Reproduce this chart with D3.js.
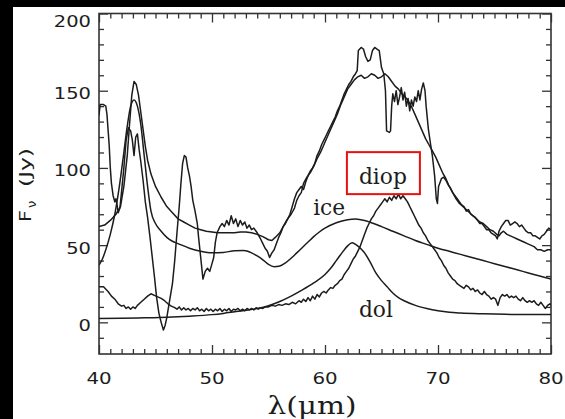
<!DOCTYPE html>
<html><head><meta charset="utf-8">
<script src="https://cdn.jsdelivr.net/npm/d3@7"></script>
<style>html,body{margin:0;padding:0;background:#fff;}svg{display:block}</style>
</head><body><svg id="c" width="565" height="419"></svg>
<script>
// ---------- DATA ----------
const xMajorTicks = [40, 50, 60, 70, 80];
const xTickLabels = ["40", "50", "60", "70", "80"];
const yMajorTicks = [0, 50, 100, 150, 200];
const yTickLabels = ["0", "50", "100", "150", "200"];
const xMinorTicks = [41,42,43,44,45,46,47,48,49,51,52,53,54,55,56,57,58,59,61,62,63,64,65,66,67,68,69,71,72,73,74,75,76,77,78,79];
const yMinorTicks = [-10,10,20,30,40,60,70,80,90,110,120,130,140,160,170,180,190];

// observed spectrum [lambda, F]
const observed = [
[40.0,134],[40.1,141],[40.4,141],[40.6,140],[40.7,135],[40.9,115],[41.0,100],[41.1,90],[41.25,82],[41.4,78],[41.5,80],[41.6,76],[41.7,71],[41.85,74],[42.0,85],[42.2,100],[42.4,118],[42.6,126],[42.8,124],[42.95,118],[43.1,108],[43.25,120],[43.4,122],[43.55,112],[43.7,104],[43.9,92],[44.1,78],[44.3,68],[44.5,56],[44.7,43],[44.9,30],[45.1,16],[45.3,6],[45.5,0],[45.7,-5],[45.85,-2],[46.0,3],[46.2,12],[46.5,25],[46.7,40],[46.9,58],[47.1,75],[47.25,90],[47.4,103],[47.55,108],[47.7,107],[47.85,100],[48.0,95],[48.15,88],[48.3,79],[48.5,72],[48.7,64],[48.8,56],[49.0,42],[49.2,28],[49.4,33],[49.6,35],[49.8,33],[50.0,38],[50.15,42],[50.3,52],[50.45,58],[50.7,62],[50.9,64],[51.1,62],[51.3,66],[51.5,63],[51.7,69],[51.9,64],[52.1,67],[52.3,62],[52.5,66],[52.7,63],[52.9,65],[53.1,61],[53.3,63],[53.5,60],[53.7,61],[54.0,58],[54.3,54],[54.5,51],[54.7,48],[54.9,46],[55.1,42],[55.3,45],[55.5,47],[55.7,51],[55.9,55],[56.1,58],[56.3,62],[56.5,64],[56.7,67],[56.9,70],[57.1,75],[57.3,80],[57.5,84],[57.7,86],[57.9,88],[58.1,86],[58.3,91],[58.5,95],[58.7,98],[58.9,100],[59.1,103],[59.3,108],[59.5,111],[59.7,115],[59.9,118],[60.1,121],[60.3,124],[60.5,127],[60.7,130],[60.9,133],[61.1,137],[61.3,140],[61.5,144],[61.7,148],[61.9,151],[62.1,154],[62.3,156],[62.5,159],[62.7,161],[62.85,163],[62.95,176],[63.2,178],[63.4,177],[63.6,172],[63.8,169],[64.0,170],[64.2,176],[64.4,178],[64.6,177],[64.8,176],[65.0,165],[65.2,161],[65.35,150],[65.45,124],[65.7,123],[65.8,124],[65.9,140],[66.0,148],[66.15,143],[66.3,150],[66.45,141],[66.6,146],[66.75,152],[66.9,144],[67.05,149],[67.2,140],[67.35,145],[67.5,137],[67.65,144],[67.8,140],[67.95,146],[68.1,143],[68.25,150],[68.4,144],[68.55,151],[68.7,155],[68.85,150],[68.95,140],[69.15,125],[69.35,115],[69.5,108],[69.7,95],[69.85,80],[69.95,77],[70.05,88],[70.3,93],[70.5,94],[70.7,92],[70.9,89],[71.1,87],[71.3,84],[71.5,82],[71.7,80],[71.9,78],[72.1,76],[72.3,75],[72.5,72],[72.7,73],[72.9,70],[73.1,69],[73.3,68],[73.5,66],[73.7,64],[73.9,64],[74.1,62],[74.3,60],[74.5,60],[74.7,58],[74.9,57],[75.1,56],[75.25,54],[75.4,59],[75.6,62],[75.8,64],[76.0,66],[76.2,66],[76.4,63],[76.6,64],[76.8,65],[77.0,64],[77.2,62],[77.4,63],[77.6,61],[77.8,59],[78.0,58],[78.2,58],[78.4,56],[78.6,56],[78.8,55],[79.0,54],[79.2,56],[79.4,57],[79.6,59],[79.8,61],[80.0,60]
];

// total model [lambda, F]
const totalModel = [
[40.0,62],[40.5,63],[41.0,66],[41.5,70],[41.9,75],[42.2,88],[42.5,108],[42.7,128],[42.9,147],[43.1,156],[43.3,154],[43.5,147],[43.7,136],[43.9,125],[44.1,114],[44.3,105],[44.6,96],[45.0,88],[45.5,81],[46.0,75],[46.5,71],[47.0,67],[47.5,65],[48.0,63],[48.5,61],[49.0,60],[49.5,59],[50.0,58.5],[50.5,58],[51.0,58],[51.5,58],[52.0,58],[52.5,58.5],[53.0,58.5],[53.5,58],[54.0,57],[54.5,55.5],[55.0,53.5],[55.3,53],[55.6,55],[56.0,58],[56.3,62],[56.6,66],[57.0,70],[57.3,74],[57.5,79],[57.7,82],[57.9,84],[58.1,90],[58.4,94],[58.7,97],[59.0,101],[59.3,106],[59.6,110],[59.9,115],[60.2,120],[60.5,125],[60.8,130],[61.1,135],[61.4,141],[61.7,146],[62.0,151],[62.3,154],[62.6,157],[62.9,159],[63.2,160],[63.5,158],[63.8,159],[64.1,161],[64.4,160],[64.7,158],[65.0,159],[65.3,161],[65.6,159],[65.9,156],[66.2,153],[66.5,151],[66.8,148],[67.1,146],[67.4,143],[67.7,139],[68.0,134],[68.3,129],[68.6,124],[68.9,119],[69.2,115],[69.5,111],[69.8,107],[70.1,102],[70.4,97],[70.7,93],[71.0,88],[71.3,84],[71.6,80],[71.9,77],[72.2,75],[72.5,73],[72.8,71],[73.1,69],[73.4,67],[73.7,65],[74.0,64],[74.3,62],[74.6,60],[74.9,59],[75.2,57],[75.4,56],[75.6,58],[75.8,59],[76.1,57],[76.4,56],[76.7,55],[77.0,54],[77.3,53],[77.6,52],[77.9,51],[78.2,50],[78.5,49],[78.8,47],[79.1,47],[79.4,46],[79.7,47],[80.0,47]
];

// crystalline ice [lambda, F]
const ice = [
[40,37],[40.3,41],[40.6,47],[41.0,57],[41.4,70],[41.8,88],[42.2,110],[42.5,127],[42.8,140],[43.1,144],[43.4,140],[43.7,128],[44.0,108],[44.3,88],[44.6,72],[45.0,64],[45.5,59],[46.0,55],[46.5,52.5],[47.0,51],[48.0,48],[49.0,46],[50.0,45],[51.0,45.3],[52.0,46.3],[52.8,46.5],[53.5,45],[54.0,43],[54.5,40.5],[55.0,37.5],[55.5,36],[56.0,36.5],[56.5,38.5],[57.0,41.5],[57.5,45],[58.0,48.5],[58.5,52],[59.0,55.5],[59.5,58.5],[60.0,61],[61.0,64.5],[62.0,66.5],[62.7,67],[63.5,66],[64.0,64.8],[65.0,62],[66.0,59],[67.0,56],[68.0,53],[69.0,50.5],[70.0,48],[71.0,46],[72.0,44],[73.0,42],[74.0,40],[75.0,38],[76.0,36],[77.0,34],[78.0,32],[79.0,30],[80.0,28]
];

// dolomite [lambda, F]
const dol = [
[40,2.5],[42,2.6],[44,2.9],[46,3.3],[48,4],[50,5],[51,5.8],[52,6.8],[53,7.8],[54,9],[55,10.8],[56,13.5],[57,17],[58,21],[59,25.5],[60,31],[60.5,35],[61,40],[61.5,45],[62,49.5],[62.4,51.5],[62.8,50],[63.2,47.5],[63.5,45],[64,39],[64.5,32],[65,27],[65.5,23],[66,19],[66.5,16],[67,14],[68,11],[69,9],[70,7.5],[71,6.5],[72,6],[74,5.5],[76,5.2],[78,5],[80,5]
];

// diopside [lambda, F]
const diop = [
[40.0,23],[40.4,23],[40.8,20],[41.1,17],[41.4,15],[41.7,12],[42.0,10.5],[42.2,11],[42.4,9],[42.6,10],[42.8,8.5],[43.0,10],[43.2,9],[43.4,11],[43.7,13],[44.0,15],[44.3,17],[44.6,18.5],[44.9,17.5],[45.2,16.5],[45.5,15.5],[45.8,14],[46.1,12],[46.4,10.5],[46.7,9.5],[46.9,8.5],[47.1,10],[47.3,8],[47.5,9.5],[47.7,8],[47.9,9],[48.1,7.5],[48.3,9],[48.5,8],[48.7,9.5],[48.9,7.5],[49.1,8.5],[49.3,7],[49.5,9],[49.7,7.5],[49.9,8.5],[50.1,7],[50.3,8.5],[50.5,7.5],[50.7,9],[50.9,7],[51.1,8.5],[51.3,7.5],[51.5,9],[51.7,7],[51.9,8.5],[52.1,8],[52.3,9],[52.5,7.5],[52.7,8.5],[52.9,7.5],[53.1,9],[53.3,8],[53.5,9],[53.7,8],[53.9,9.5],[54.1,8.5],[54.3,9.5],[54.5,9],[54.7,10],[55.0,10],[55.3,11],[55.6,10.5],[55.9,11.5],[56.2,11],[56.5,12],[56.8,11.5],[57.1,13],[57.4,12],[57.7,14],[57.9,13],[58.1,15],[58.3,13.5],[58.5,16],[58.7,14],[58.9,17],[59.1,15],[59.3,18],[59.5,16.5],[59.7,19],[59.9,20],[60.1,19],[60.3,21],[60.5,22.5],[60.7,22],[60.9,24],[61.1,25],[61.3,27],[61.5,28],[61.7,31],[61.9,33],[62.1,35],[62.3,38],[62.5,41],[62.7,43],[62.9,46],[63.1,49],[63.3,53],[63.5,57],[63.7,61],[63.9,64],[64.1,67],[64.3,69],[64.5,72],[64.7,74],[64.9,76],[65.1,78],[65.3,80],[65.5,78],[65.7,81],[65.9,79],[66.1,82],[66.3,80],[66.5,83],[66.7,80],[66.9,82],[67.1,80],[67.3,78],[67.5,75],[67.7,72],[67.9,69],[68.1,66],[68.3,63],[68.5,61],[68.7,58],[68.9,56],[69.1,53],[69.3,51],[69.5,49],[69.7,47],[69.9,45],[70.1,42],[70.3,40],[70.5,37],[70.7,35],[70.9,32],[71.1,30],[71.3,28],[71.5,27],[71.7,25],[71.9,24],[72.1,23],[72.3,22],[72.5,24],[72.7,23],[72.9,21],[73.1,22],[73.3,20],[73.5,21],[73.7,19],[73.9,18],[74.1,20],[74.3,18],[74.5,17],[74.7,15],[74.9,16],[75.1,15],[75.3,11],[75.5,16],[75.7,18],[75.9,17],[76.1,18],[76.3,16],[76.5,17],[76.7,16],[76.9,17],[77.1,15],[77.3,14],[77.5,16],[77.7,14],[77.9,13],[78.1,14],[78.3,13],[78.5,14],[78.7,12],[78.9,11],[79.1,13],[79.3,11],[79.5,9],[79.7,11],[79.9,12],[80.0,11]
];

const annotations = [
  {text: "ice",  lam: 58.95, f: 69.5, len: 32},
  {text: "dol",  lam: 63.0,  f: 3.3,  len: 34},
  {text: "diop", lam: 63.0,  f: 89.5, len: 48}
];
const boxedLabel = "diop";

// ---------- DRAW ----------
const W = 565, H = 419;
const L = 99, R = 551, T = 13.5, B = 354;
const x = d3.scaleLinear().domain([40, 80]).range([L, R]);
const y = d3.scaleLinear().domain([-20.5, 200]).range([B, T]);
const svg = d3.select("#c");
const ink = "#1c1c1c";

svg.append("rect").attr("width", W).attr("height", H).attr("fill", "#fff");
svg.append("rect").attr("x", 0).attr("y", 0).attr("width", 13).attr("height", H).attr("fill", "#000");
svg.append("rect").attr("x", 0).attr("y", 0).attr("width", W).attr("height", 7).attr("fill", "#000");

svg.append("defs").append("clipPath").attr("id", "clip")
  .append("rect").attr("x", L).attr("y", T).attr("width", R - L).attr("height", B - T);

function axis(gen, tx, ty, vals, size) {
  svg.append("g").attr("transform", `translate(${tx},${ty})`)
    .call(gen.tickValues(vals).tickSize(size).tickFormat(""))
    .call(g => g.select(".domain").remove())
    .call(g => g.selectAll("line").attr("stroke", "#333").attr("stroke-width", 1.3));
}
axis(d3.axisBottom(x), 0, B, xMajorTicks, -9);
axis(d3.axisBottom(x), 0, B, xMinorTicks, -5);
axis(d3.axisTop(x), 0, T, xMajorTicks, -9);
axis(d3.axisTop(x), 0, T, xMinorTicks, -5);
axis(d3.axisLeft(y), L, 0, yMajorTicks, -9);
axis(d3.axisLeft(y), L, 0, yMinorTicks, -5);
axis(d3.axisRight(y), R, 0, yMajorTicks, -9);
axis(d3.axisRight(y), R, 0, yMinorTicks, -5);

svg.append("rect").attr("x", L).attr("y", T).attr("width", R - L).attr("height", B - T)
  .attr("fill", "none").attr("stroke", "#333").attr("stroke-width", 1.6);

const plot = svg.append("g").attr("clip-path", "url(#clip)");
const jag = d3.line().x(d => x(d[0])).y(d => y(d[1]));
const smooth = d3.line().x(d => x(d[0])).y(d => y(d[1])).curve(d3.curveMonotoneX);
[[dol, smooth], [ice, smooth], [diop, jag], [totalModel, jag], [observed, jag]].forEach(([data, gen]) => {
  plot.append("path").datum(data).attr("d", gen)
    .attr("fill", "none").attr("stroke", ink).attr("stroke-width", 1.5).attr("stroke-linejoin", "round");
});

// tick labels
yMajorTicks.forEach((v, i) => {
  const cy = Math.max(y(v) + 2.5, 21);
  svg.append("text").attr("x", 91).attr("y", cy + 6).attr("text-anchor", "end")
    .attr("font-family", "DejaVu Sans").attr("font-size", 16.5).attr("fill", ink)
    .attr("textLength", yTickLabels[i].length * 12.4).attr("lengthAdjust", "spacingAndGlyphs")
    .text(yTickLabels[i]);
});
xMajorTicks.forEach((v, i) => {
  svg.append("text").attr("x", x(v)).attr("y", 384).attr("text-anchor", "middle")
    .attr("font-family", "DejaVu Sans").attr("font-size", 16.5).attr("fill", ink)
    .attr("textLength", xTickLabels[i].length * 12.6).attr("lengthAdjust", "spacingAndGlyphs")
    .text(xTickLabels[i]);
});

// axis titles
svg.append("text").attr("x", 312).attr("y", 414).attr("text-anchor", "middle")
  .attr("font-family", "DejaVu Serif").attr("font-size", 24).attr("fill", ink)
  .attr("textLength", 89).attr("lengthAdjust", "spacingAndGlyphs").text("λ(μm)");

const yt = svg.append("g").attr("transform", "translate(31,222) rotate(-90)")
  .attr("font-family", "DejaVu Sans").attr("fill", ink);
yt.append("text").attr("x", 0).attr("y", 0).attr("font-size", 15)
  .attr("textLength", 12).attr("lengthAdjust", "spacingAndGlyphs").text("F");
yt.append("text").attr("x", 14).attr("y", 5).attr("font-size", 13).text("ν");
yt.append("text").attr("x", 35).attr("y", 0).attr("font-size", 16)
  .attr("textLength", 39).attr("lengthAdjust", "spacingAndGlyphs").text("(Jy)");

// annotations
annotations.forEach(a => {
  svg.append("text").attr("x", x(a.lam)).attr("y", y(a.f))
    .attr("font-family", "DejaVu Serif").attr("font-size", 22).attr("fill", ink)
    .attr("textLength", a.len).attr("lengthAdjust", "spacingAndGlyphs").text(a.text);
});
const bx = annotations.find(a => a.text === boxedLabel);
svg.append("rect").attr("x", x(bx.lam) - 12).attr("y", y(bx.f) - 32)
  .attr("width", 73).attr("height", 42)
  .attr("fill", "none").attr("stroke", "#e81010").attr("stroke-width", 2);
</script></body></html>
